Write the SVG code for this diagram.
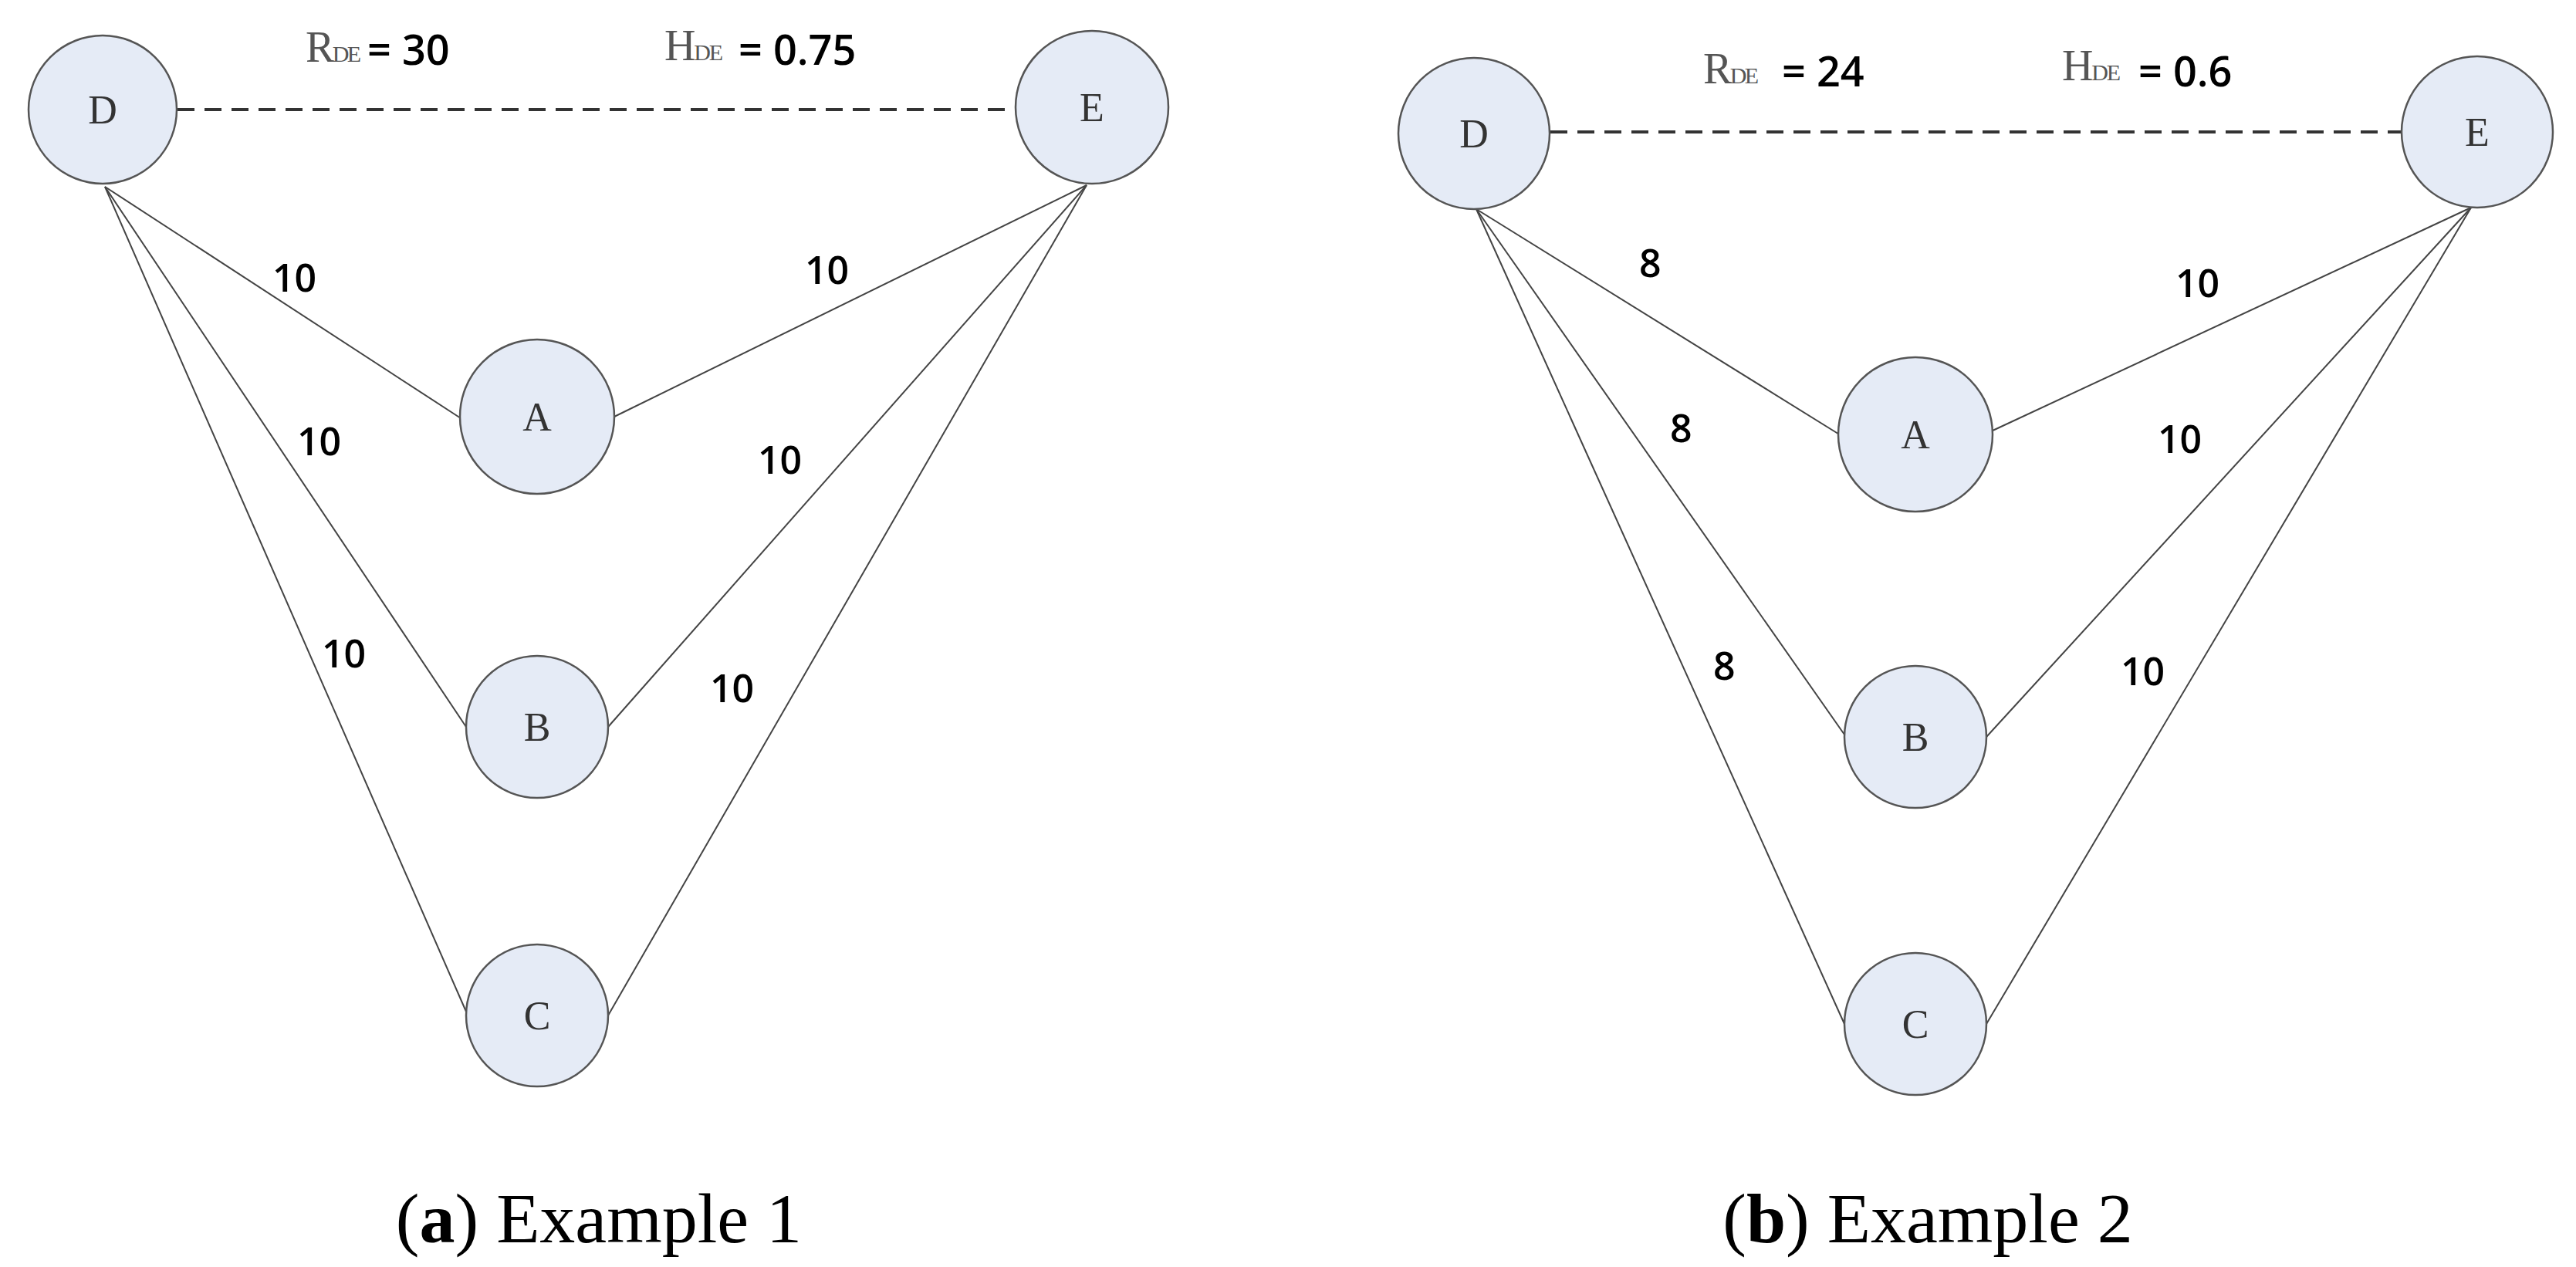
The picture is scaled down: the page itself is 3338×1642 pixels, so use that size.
<svg xmlns="http://www.w3.org/2000/svg" width="3338" height="1642" viewBox="0 0 3338 1642">
<style>
.n{fill:#e5ebf6;stroke:#555;stroke-width:2.5}
.e{stroke:#444;stroke-width:2;fill:none}
.d{stroke:#333;stroke-width:4;stroke-dasharray:22,13;fill:none}
.nl{font-family:"Liberation Serif",serif;font-size:52px;fill:#333;text-anchor:middle}
.el{font-family:"Open Sans","Liberation Sans",sans-serif;font-size:50px;fill:#000;font-weight:600}
.hv{font-size:54px}
.sv{font-family:"Liberation Serif",serif;font-size:56px;fill:#555}
.sb{font-size:30px}
.cap{font-family:"Liberation Serif",serif;font-size:92px;fill:#000;text-anchor:middle}
</style>
<rect width="3338" height="1642" fill="#fff"/>
<g id="connectors">
<line class="d" x1="230" y1="142" x2="1314" y2="142"/>
<line class="e" x1="136" y1="242" x2="597" y2="542"/>
<line class="e" x1="136" y1="242" x2="604" y2="942"/>
<line class="e" x1="136" y1="242" x2="604" y2="1311"/>
<line class="e" x1="1408" y1="240" x2="796" y2="540"/>
<line class="e" x1="1408" y1="240" x2="788" y2="942"/>
<line class="e" x1="1408" y1="240" x2="788" y2="1316"/>
<line class="d" x1="2009" y1="171" x2="3111" y2="171"/>
<line class="e" x1="1913" y1="271" x2="2385" y2="564"/>
<line class="e" x1="1913" y1="271" x2="2390" y2="952"/>
<line class="e" x1="1913" y1="271" x2="2390" y2="1327"/>
<line class="e" x1="3202" y1="269" x2="2580" y2="559"/>
<line class="e" x1="3202" y1="269" x2="2574" y2="955"/>
<line class="e" x1="3202" y1="269" x2="2574" y2="1327"/>
</g>
<g id="a-D"><circle class="n" cx="133" cy="142" r="96"/><text class="nl" x="133" y="160">D</text></g>
<g id="a-E"><circle class="n" cx="1415" cy="139" r="99"/><text class="nl" x="1415" y="157">E</text></g>
<g id="a-A"><circle class="n" cx="696" cy="540" r="100"/><text class="nl" x="696" y="558">A</text></g>
<g id="a-B"><circle class="n" cx="696" cy="942" r="92"/><text class="nl" x="696" y="960">B</text></g>
<g id="a-C"><circle class="n" cx="696" cy="1316" r="92"/><text class="nl" x="696" y="1334">C</text></g>
<g id="b-D"><circle class="n" cx="1910" cy="173" r="98"/><text class="nl" x="1910" y="191">D</text></g>
<g id="b-E"><circle class="n" cx="3210" cy="171" r="98"/><text class="nl" x="3210" y="189">E</text></g>
<g id="b-A"><circle class="n" cx="2482" cy="563" r="100"/><text class="nl" x="2482" y="581">A</text></g>
<g id="b-B"><circle class="n" cx="2482" cy="955" r="92"/><text class="nl" x="2482" y="973">B</text></g>
<g id="b-C"><circle class="n" cx="2482" cy="1327" r="92"/><text class="nl" x="2482" y="1345">C</text></g>
<g id="labels">
<text class="sv" x="396" y="80" textLength="72">R<tspan class="sb">DE</tspan></text><text class="el hv" x="476" y="84">= 30</text>
<text class="sv" x="861" y="78" textLength="76">H<tspan class="sb">DE</tspan></text><text class="el hv" x="957" y="84">= 0.75</text>
<text class="el" x="353" y="378">10</text>
<text class="el" x="1043" y="368">10</text>
<text class="el" x="385" y="590">10</text>
<text class="el" x="982" y="614">10</text>
<text class="el" x="417" y="865">10</text>
<text class="el" x="920" y="910">10</text>
<text class="sv" x="2207" y="108" textLength="72">R<tspan class="sb">DE</tspan></text><text class="el hv" x="2309" y="112">= 24</text>
<text class="sv" x="2672" y="104" textLength="76">H<tspan class="sb">DE</tspan></text><text class="el hv" x="2771" y="112">= 0.6</text>
<text class="el" x="2124" y="359">8</text>
<text class="el" x="2164" y="573">8</text>
<text class="el" x="2220" y="881">8</text>
<text class="el" x="2819" y="385">10</text>
<text class="el" x="2796" y="587">10</text>
<text class="el" x="2748" y="888">10</text>
<text class="cap" x="776" y="1610">(<tspan font-weight="bold">a</tspan>) Example 1</text>
<text class="cap" x="2498" y="1610">(<tspan font-weight="bold">b</tspan>) Example 2</text>
</g>
</svg>
